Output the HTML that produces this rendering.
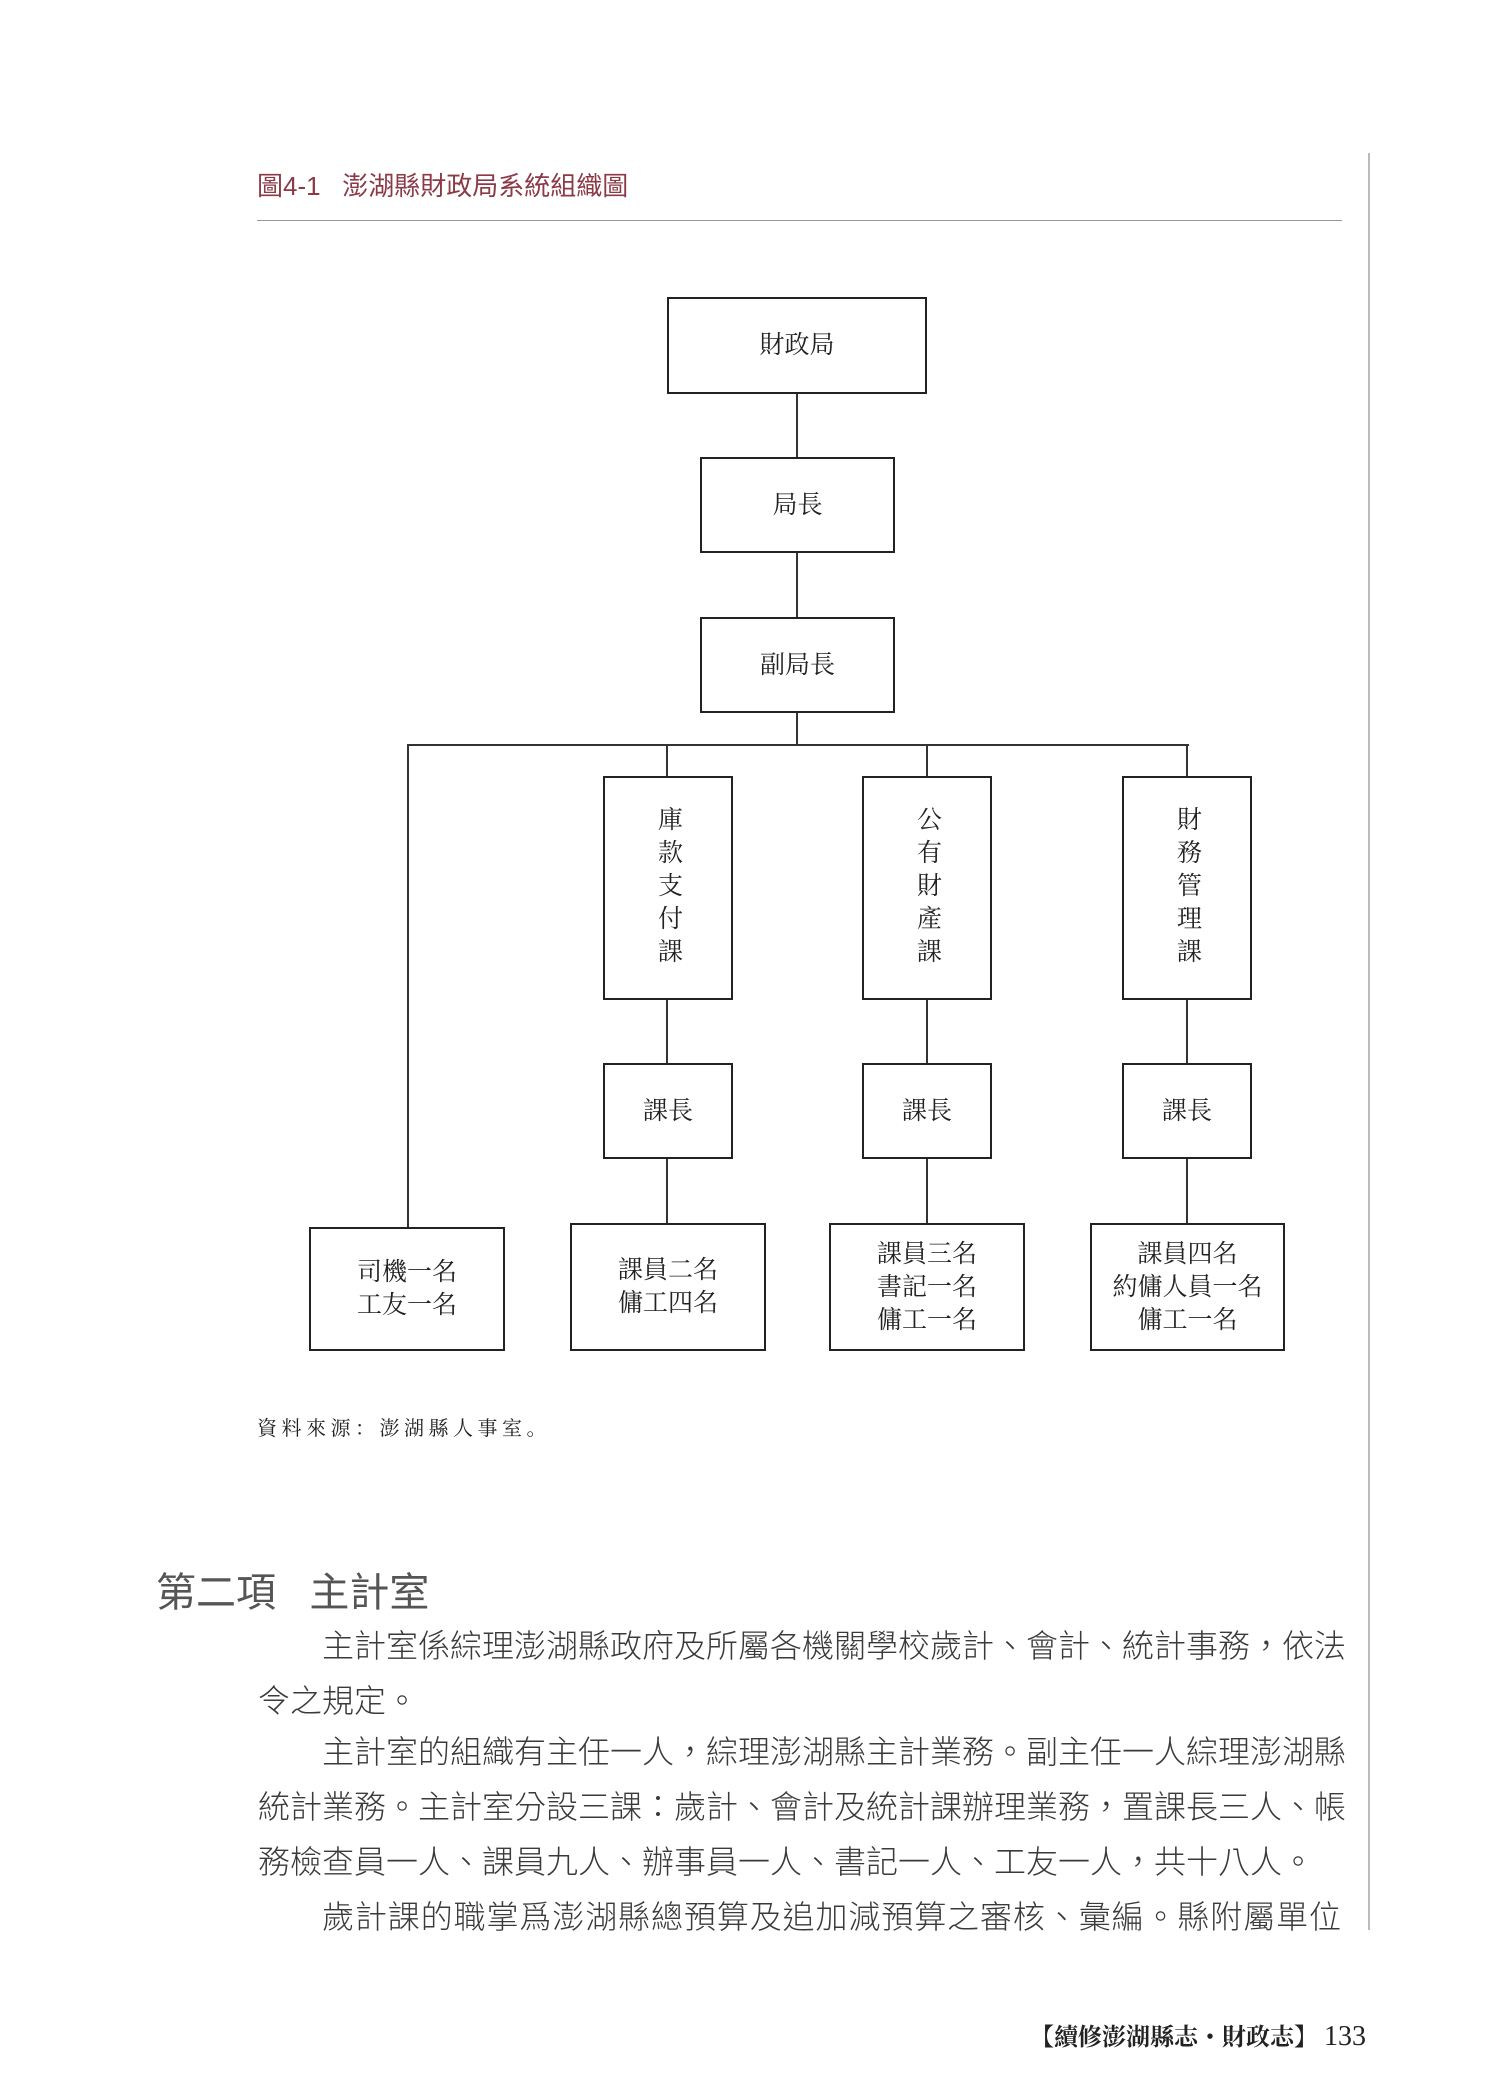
<!DOCTYPE html>
<html><head><meta charset="utf-8">
<style>
html,body{margin:0;padding:0;background:#fff;}
body{width:1500px;height:2094px;position:relative;overflow:hidden;}
.a{position:absolute;}
.box{position:absolute;border:2px solid #222;box-sizing:border-box;display:flex;align-items:center;justify-content:center;text-align:center;font-family:"Liberation Serif","Noto Serif CJK SC",serif;font-size:25px;line-height:33px;color:#222;}
.v{writing-mode:vertical-rl;letter-spacing:8px;line-height:1;}
.h{position:absolute;background:#333;height:2px;}
.vl{position:absolute;background:#333;width:2px;}
.p{position:absolute;font-family:"Liberation Sans","Noto Sans CJK TC",sans-serif;font-size:32px;color:#3a3a3a;white-space:nowrap;line-height:40px;font-weight:300;}
</style></head><body>
<div class="a" style="left:257px;top:166px;font-family:'Liberation Sans','Noto Sans CJK TC',sans-serif;font-size:26px;color:#8b3a46;white-space:nowrap;">圖4-1&nbsp;&nbsp;&nbsp;澎湖縣財政局系統組織圖</div>
<div class="a" style="left:257px;top:220px;width:1085px;height:1px;background:#999;"></div>
<div class="a" style="left:1368px;top:153px;width:2px;height:1777px;background:#bbb;"></div>

<div class="box" style="left:667px;top:297px;width:260px;height:97px;">財政局</div>
<div class="vl" style="left:796px;top:394px;height:63px;"></div>
<div class="box" style="left:700px;top:457px;width:195px;height:96px;">局長</div>
<div class="vl" style="left:796px;top:553px;height:64px;"></div>
<div class="box" style="left:700px;top:617px;width:195px;height:96px;">副局長</div>
<div class="vl" style="left:796px;top:713px;height:33px;"></div>
<div class="h" style="left:407px;top:744px;width:782px;"></div>
<div class="vl" style="left:407px;top:744px;height:483px;"></div>

<div class="vl" style="left:666px;top:744px;height:32px;"></div>
<div class="vl" style="left:926px;top:744px;height:32px;"></div>
<div class="vl" style="left:1186px;top:744px;height:32px;"></div>

<div class="box" style="left:603px;top:776px;width:130px;height:224px;"><span class="v">庫款支付課</span></div>
<div class="box" style="left:862px;top:776px;width:130px;height:224px;"><span class="v">公有財產課</span></div>
<div class="box" style="left:1122px;top:776px;width:130px;height:224px;"><span class="v">財務管理課</span></div>

<div class="vl" style="left:666px;top:1000px;height:63px;"></div>
<div class="vl" style="left:926px;top:1000px;height:63px;"></div>
<div class="vl" style="left:1186px;top:1000px;height:63px;"></div>

<div class="box" style="left:603px;top:1063px;width:130px;height:96px;">課長</div>
<div class="box" style="left:862px;top:1063px;width:130px;height:96px;">課長</div>
<div class="box" style="left:1122px;top:1063px;width:130px;height:96px;">課長</div>

<div class="vl" style="left:666px;top:1159px;height:64px;"></div>
<div class="vl" style="left:926px;top:1159px;height:64px;"></div>
<div class="vl" style="left:1186px;top:1159px;height:64px;"></div>

<div class="box" style="left:309px;top:1227px;width:196px;height:124px;">司機一名<br>工友一名</div>
<div class="box" style="left:570px;top:1223px;width:196px;height:128px;">課員二名<br>傭工四名</div>
<div class="box" style="left:829px;top:1223px;width:196px;height:128px;">課員三名<br>書記一名<br>傭工一名</div>
<div class="box" style="left:1090px;top:1223px;width:195px;height:128px;">課員四名<br>約傭人員一名<br>傭工一名</div>

<div class="a" style="left:257px;top:1412px;font-family:'Liberation Serif','Noto Serif CJK SC',serif;font-size:20px;letter-spacing:4.5px;color:#222;white-space:nowrap;">資料來源：澎湖縣人事室。</div>

<div class="a" style="left:156px;top:1560px;font-family:'Liberation Sans','Noto Sans CJK TC',sans-serif;font-size:40px;color:#555;white-space:nowrap;font-weight:normal;">第二項&nbsp;&nbsp;&nbsp;主計室</div>

<div class="p" style="left:322px;top:1626px;">主計室係綜理澎湖縣政府及所屬各機關學校歲計、會計、統計事務，依法</div>
<div class="p" style="left:258px;top:1681px;">令之規定。</div>
<div class="p" style="left:322px;top:1732px;">主計室的組織有主任一人，綜理澎湖縣主計業務。副主任一人綜理澎湖縣</div>
<div class="p" style="left:258px;top:1787px;">統計業務。主計室分設三課：歲計、會計及統計課辦理業務，置課長三人、帳</div>
<div class="p" style="left:258px;top:1842px;">務檢查員一人、課員九人、辦事員一人、書記一人、工友一人，共十八人。</div>
<div class="p" style="left:322px;top:1897px;letter-spacing:0.9px;">歲計課的職掌爲澎湖縣總預算及追加減預算之審核、彙編。縣附屬單位</div>

<div class="a" style="left:1030px;top:2017px;font-family:'Liberation Serif','Noto Serif CJK SC',serif;font-size:24px;color:#222;white-space:nowrap;font-weight:bold;">【續修澎湖縣志・財政志】 <span style="font-weight:normal;font-size:28px;">133</span></div>
</body></html>
